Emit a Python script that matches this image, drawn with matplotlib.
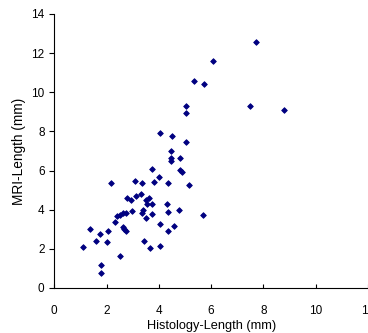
import matplotlib
matplotlib.use("Agg")
import matplotlib.pyplot as plt

plt.rcParams['font.family'] = ['Liberation Sans', 'DejaVu Sans']

histology_mm = [7.72, 6.07, 5.34, 5.73, 5.03, 5.03, 7.48, 8.80, 5.02, 4.06,
                4.50, 4.46, 4.46, 4.45, 4.79, 3.73, 4.82, 4.90, 4.01, 3.81,
                4.35, 5.15, 3.64, 3.74, 4.31, 3.74, 4.35, 4.78, 5.69, 2.15,
                3.08, 3.37, 3.13, 3.33, 2.77, 2.93, 3.51, 3.56, 3.40, 3.34,
                3.51, 2.99, 2.75, 2.62, 2.50, 2.39, 2.33, 2.62, 2.68, 2.74,
                1.35, 1.75, 2.05, 1.61, 2.00, 1.11, 3.43, 3.65, 4.03, 4.04,
                4.56, 4.35, 2.52, 1.79, 1.79]
mri_mm = [12.55, 11.58, 10.58, 10.41, 9.32, 8.94, 9.32, 9.11, 7.48, 7.90,
          7.78, 7.02, 6.66, 6.47, 6.64, 6.08, 6.04, 5.94, 5.67, 5.42,
          5.38, 5.25, 4.62, 4.29, 4.29, 3.78, 3.88, 3.96, 3.73, 5.34,
          5.49, 5.37, 4.70, 4.78, 4.60, 4.52, 4.52, 4.29, 4.01, 3.81,
          3.58, 3.91, 3.85, 3.82, 3.75, 3.68, 3.36, 3.12, 3.00, 2.93,
          3.01, 2.74, 2.90, 2.40, 2.35, 2.11, 2.42, 2.06, 2.13, 3.29,
          3.19, 2.91, 1.66, 1.18, 0.77]

x_ticks = [0, 2, 4, 6, 8, 10, 12]
y_ticks = [0, 2, 4, 6, 8, 10, 12, 14]

fig = plt.figure(figsize=(3.68, 3.33), dpi=100)
ax = fig.add_axes([54.3 / 368, 45 / 333, (368 - 54.3) / 368, (288 - 14) / 333])
ax.plot(histology_mm, mri_mm, linestyle='none', marker='D', markersize=2.9,
        color='#000080', markeredgewidth=0.6, clip_on=False)
ax.set_xlim(0, 12)
ax.set_ylim(0, 14)
ax.set_xticks(x_ticks)
ax.set_yticks(y_ticks)
for s in ['top', 'right']:
    ax.spines[s].set_visible(False)
for s in ['left', 'bottom']:
    ax.spines[s].set_linewidth(0.8)
ax.tick_params(axis='y', direction='out', length=3.6, width=0.8, pad=3.4, labelsize=8.5)
ax.tick_params(axis='x', direction='in', length=3, width=0.8, pad=12.5, labelsize=8.5)
ax.set_xlabel('Histology-Length (mm)', fontsize=9.2, labelpad=2)
ax.set_ylabel('MRI-Length (mm)', fontsize=9.8, labelpad=3.5)
fig.savefig('out.png', dpi=100)
